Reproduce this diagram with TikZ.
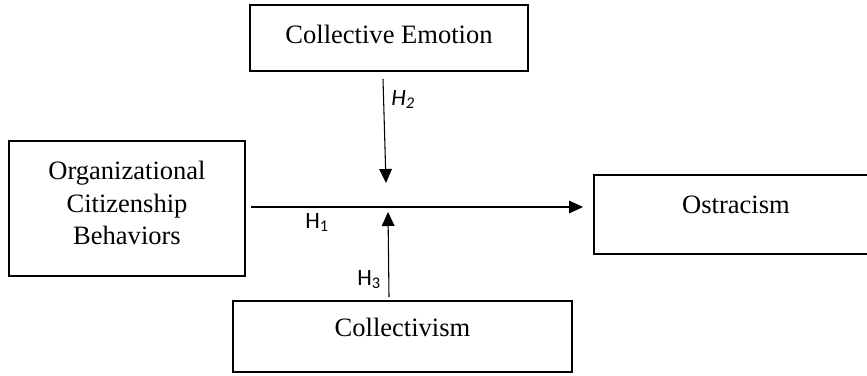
\documentclass[tikz,border=0pt]{standalone}
\usepackage{fontspec}
\setmainfont{Liberation Serif}
\newfontfamily\hfont{Carlito}
\usetikzlibrary{arrows.meta}
\begin{document}
\begin{tikzpicture}[x=0.75pt,y=-0.75pt,
  box/.style={draw=black, line width=2.2pt, rectangle, inner sep=0pt},
  lbl/.style={font=\fontsize{19.9}{24.4}\selectfont, inner sep=0pt},
  hyp/.style={font=\hfont\fontsize{17.5}{21}\selectfont, inner sep=0pt, anchor=base west},
  conn/.style={line width=0.8pt, -{Triangle[length=10.5pt,width=9.5pt]}}]
\useasboundingbox (0,0) rectangle (867,375);
% boxes
\node[box, minimum width=236*0.75pt, minimum height=135*0.75pt] (ocb) at (127,208.5) {};
\node[box, minimum width=278*0.75pt, minimum height=66*0.75pt] (ce) at (389,38) {};
\node[box, minimum width=339*0.75pt, minimum height=71*0.75pt] (col) at (402.5,336.5) {};
\node[box, minimum width=284*0.75pt, minimum height=79*0.75pt] (ost) at (736,214.5) {};
% texts
\node[lbl, align=center] (ocbt) at (127,203) {Organizational\\Citizenship\\Behaviors};
\node[lbl, anchor=base] (cet) at (389,43) {Collective Emotion};
\node[lbl, anchor=base] (colt) at (402.5,336) {Collectivism};
\node[lbl, anchor=base] (ostt) at (736,213) {Ostracism};
% connector end points
\coordinate (h1s) at (251,207);
\coordinate (h1e) at (583,207);
\coordinate (h2s) at (383,79);
\coordinate (h2e) at (386,183);
\coordinate (h3s) at (389,297);
\coordinate (h3e) at (388,212);
\draw[conn] (h1s) -- (h1e);
\draw[conn] (h2s) -- (h2e);
\draw[conn] (h3s) -- (h3e);
% hypothesis labels
\node[hyp] (h1) at (305,228) {H\textsubscript{1}};
\node[hyp] (h2) at (391,105) {\itshape H\textsubscript{2}};
\node[hyp] (h3) at (357,285) {H\textsubscript{3}};
\end{tikzpicture}
\end{document}
